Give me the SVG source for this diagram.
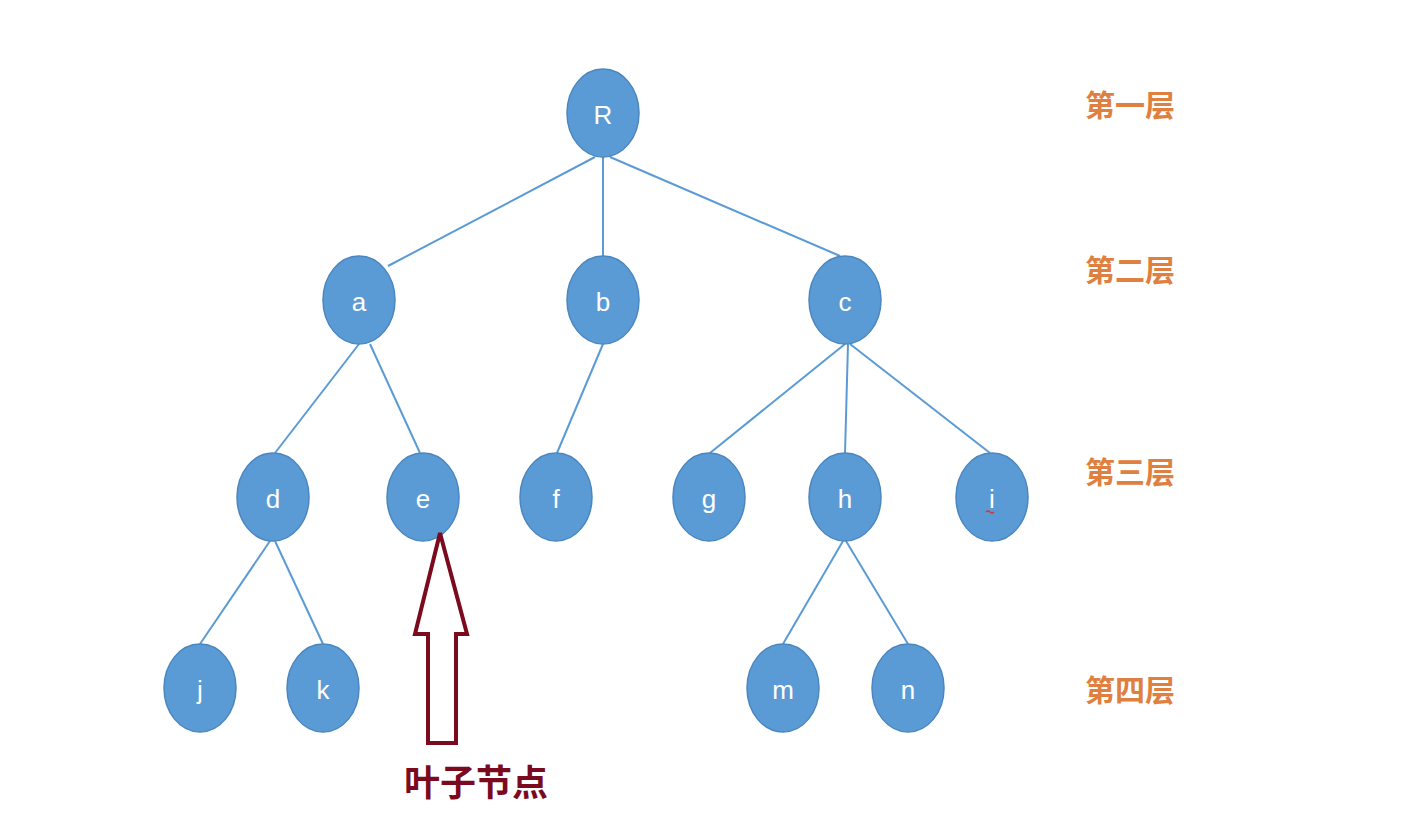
<svg xmlns="http://www.w3.org/2000/svg" width="1409" height="823" viewBox="0 0 1409 823">
<style>
.n ellipse{fill:#5B9BD5;stroke:#4A86C0;stroke-width:1.5}
.n text{fill:#fff;font-family:"Liberation Sans",Arial,sans-serif;font-size:26px;text-anchor:middle;dominant-baseline:central}
.e line{stroke:#5B9BD5;stroke-width:2}
.lv{fill:#E08040;font-family:"Noto Sans CJK SC",sans-serif;font-size:30px;font-weight:bold;text-anchor:middle;dominant-baseline:central}
</style>
<rect width="1409" height="823" fill="#fff"/>
<g id="edges" class="e">
<line x1="595" y1="157" x2="388" y2="266"/>
<line x1="603" y1="157" x2="603" y2="256"/>
<line x1="610" y1="157" x2="840" y2="256"/>
<line x1="359" y1="344" x2="275" y2="453"/>
<line x1="370" y1="344" x2="420" y2="453"/>
<line x1="603" y1="344" x2="557" y2="453"/>
<line x1="845" y1="344" x2="710" y2="453"/>
<line x1="848" y1="344" x2="845" y2="453"/>
<line x1="850" y1="344" x2="990" y2="453"/>
<line x1="270" y1="541" x2="200" y2="644"/>
<line x1="275" y1="541" x2="323" y2="644"/>
<line x1="843" y1="541" x2="783" y2="644"/>
<line x1="846" y1="541" x2="908" y2="644"/>
</g>
<g id="R" class="n"><ellipse cx="603" cy="113" rx="36" ry="44"/><text x="603" y="115">R</text></g>
<g id="a" class="n"><ellipse cx="359" cy="300" rx="36" ry="44"/><text x="359" y="302">a</text></g>
<g id="b" class="n"><ellipse cx="603" cy="300" rx="36" ry="44"/><text x="603" y="302">b</text></g>
<g id="c" class="n"><ellipse cx="845" cy="300" rx="36" ry="44"/><text x="845" y="302">c</text></g>
<g id="d" class="n"><ellipse cx="273" cy="497" rx="36" ry="44"/><text x="273" y="499">d</text></g>
<g id="e" class="n"><ellipse cx="423" cy="497" rx="36" ry="44"/><text x="423" y="499">e</text></g>
<g id="f" class="n"><ellipse cx="556" cy="497" rx="36" ry="44"/><text x="556" y="499">f</text></g>
<g id="g" class="n"><ellipse cx="709" cy="497" rx="36" ry="44"/><text x="709" y="499">g</text></g>
<g id="h" class="n"><ellipse cx="845" cy="497" rx="36" ry="44"/><text x="845" y="499">h</text></g>
<g id="i" class="n"><ellipse cx="992" cy="497" rx="36" ry="44"/><text x="992" y="499">i</text><path d="M986 512 q2 -2 4 0 t4 0" stroke="#e03030" fill="none" stroke-width="1.2"/></g>
<g id="j" class="n"><ellipse cx="200" cy="688" rx="36" ry="44"/><text x="200" y="690">j</text></g>
<g id="k" class="n"><ellipse cx="323" cy="688" rx="36" ry="44"/><text x="323" y="690">k</text></g>
<g id="m" class="n"><ellipse cx="783" cy="688" rx="36" ry="44"/><text x="783" y="690">m</text></g>
<g id="n" class="n"><ellipse cx="908" cy="688" rx="36" ry="44"/><text x="908" y="690">n</text></g>
<g id="arrow"><polygon points="440,533 467,634 456,634 456,743 428,743 428,634 415,634" fill="#fff" stroke="#7B0A1E" stroke-width="4" stroke-linejoin="miter"/></g>
<text x="476" y="780" fill="#7B0A1E" font-family="Noto Sans CJK SC,sans-serif" font-size="36" font-weight="bold" text-anchor="middle" dominant-baseline="central">叶子节点</text>
<text class="lv" x="1130" y="103">第一层</text>
<text class="lv" x="1130" y="268">第二层</text>
<text class="lv" x="1130" y="470">第三层</text>
<text class="lv" x="1130" y="688">第四层</text>
</svg>
